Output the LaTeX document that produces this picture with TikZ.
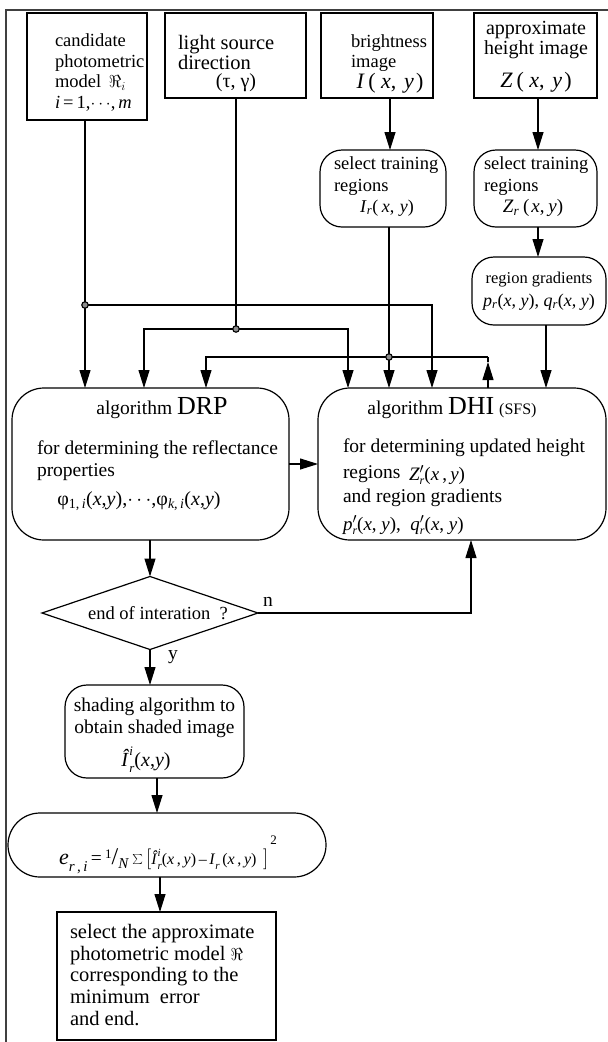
\documentclass[tikz,border=0pt]{standalone}
\usepackage{fontspec}
\setmainfont{Liberation Serif}
\usetikzlibrary{arrows.meta,shapes.geometric}
\newcommand{\vi}[1]{\textit{#1}}
\newcommand{\fsz}[1]{\fontsize{#1}{#1}\selectfont}
% hatted I with stacked super- and subscript
\newcommand{\Ihat}[1]{\vi{Î}\makebox[0pt][l]{\raisebox{0.55em}{\fsz{#1}\vi{i}}}\raisebox{-0.3em}{\fsz{#1}\vi{r}}}
% primed letter with subscript r
\newcommand{\pr}[1]{\vi{#1}\makebox[0pt][l]{\raisebox{0.0em}{$'$}}\raisebox{-0.22em}{\fsz{12}\vi{r}}}
\begin{document}
\begin{tikzpicture}[x=1pt,y=-1pt,
  every node/.style={inner sep=0pt, outer sep=0pt},
  txt/.style={font=\fontsize{19.5}{21.5}\selectfont, align=center},
  ltxt/.style={font=\fontsize{19.5}{21.5}\selectfont, align=left, anchor=west},
  sbox/.style={draw, line width=1.2pt},
  rbox/.style={draw, line width=1.2pt, rounded corners=22pt},
  bigbox/.style={draw, line width=1.2pt, rounded corners=32pt},
  arr/.style={-{Triangle[length=18pt,width=11pt]}, line width=1.1pt},
  ln/.style={line width=1.1pt},
  junction/.style={circle, draw, line width=1.1pt, fill=black!45, minimum size=6.5pt},
  frame/.style={line width=2.6pt, black!75}]
\useasboundingbox (0,0) rectangle (608,1042);

% outer frame
\draw[frame] (6,1042) -- (6,10) -- (608,10);

% input boxes
\node[sbox, minimum width=120pt, minimum height=107pt] (cand)   at (87,66.5) {};
\node[sbox, minimum width=141pt, minimum height=85pt]  (light)  at (235.5,55.5) {};
\node[sbox, minimum width=112pt, minimum height=85pt]  (bright) at (377,55.5) {};
\node[sbox, minimum width=123pt, minimum height=85pt]  (approx) at (535.5,55.5) {};

\node[ltxt, font=\fontsize{18.5}{20.5}\selectfont] (t-cand) at (55,72.5) {candidate\\photometric\\model\ \,$\Re_i$\\\vi{i}\,=\,1,$\cdots$,\,\vi{m}};
\node[ltxt, font=\fontsize{20.5}{20}\selectfont] (t-light) at (178,52.5) {light source\\direction};
\node[txt, font=\fontsize{20}{20}\selectfont] (t-tg) at (236,83) {(τ, γ)};
\node[ltxt, font=\fontsize{18.5}{20}\selectfont] (t-bright) at (351,53) {brightness\\image};
\node[txt, font=\fontsize{22}{22}\selectfont] (t-I) at (390,83) {\vi{I}\,(\hspace{0.25em}\vi{x},\hspace{0.35em}\vi{y}\hspace{0.1em})};
\node[txt, font=\fontsize{20}{20}\selectfont] (t-approx) at (536,40) {approximate\\height image};
\node[txt, font=\fontsize{22}{22}\selectfont] (t-Z) at (536,82) {\vi{Z}\,(\hspace{0.25em}\vi{x},\hspace{0.35em}\vi{y}\hspace{0.1em})};

% training regions
\node[rbox, minimum width=126pt, minimum height=77pt] (str1) at (383,188.5) {};
\node[rbox, minimum width=123pt, minimum height=77pt] (str2) at (535.5,188.5) {};
\node[ltxt, font=\fontsize{18.5}{21.5}\selectfont] (t-str1) at (334,176) {select training\\regions};
\node[txt, font=\fontsize{18}{18}\selectfont] (t-Ir) at (387,208) {\vi{I}\textsubscript{\vi{r}}(\hspace{0.2em}\vi{x},\hspace{0.3em}\vi{y})};
\node[ltxt, font=\fontsize{18.5}{21.5}\selectfont] (t-str2) at (484,176) {select training\\regions};
\node[txt, font=\fontsize{19}{19}\selectfont] (t-Zr) at (533,208) {\vi{Z}\textsubscript{\vi{r}}\hspace{0.2em}(\hspace{0.1em}\vi{x},\hspace{0.2em}\vi{y})};

% region gradients
\node[rbox, minimum width=134pt, minimum height=68pt] (rg) at (539,291) {};
\node[txt, font=\fontsize{16.5}{20}\selectfont] (t-rg) at (539,280) {region gradients};
\node[txt, font=\fontsize{18}{20}\selectfont] (t-pq) at (539,302) {\vi{p}\textsubscript{\vi{r}}(\vi{x}, \vi{y}), \vi{q}\textsubscript{\vi{r}}(\vi{x}, \vi{y})};

% the two algorithms
\node[bigbox, minimum width=277pt, minimum height=152pt] (drp) at (150.5,464) {};
\node[bigbox, minimum width=288pt, minimum height=152pt] (dhi) at (462,464) {};
\node[txt] (t-drp) at (162,408) {algorithm {\fsz{26}DRP}};
\node[ltxt] (t-drp2) at (37,450) {for determining the reflectance};
\node[ltxt] (t-drp3) at (37,472) {properties};
\node[txt, font=\fontsize{20}{20}\selectfont] (t-phi) at (139,501) {φ\textsubscript{1,\,\vi{i}}(\vi{x},\vi{y}),$\cdots$,φ\textsubscript{\vi{k},\,\vi{i}}(\vi{x},\vi{y})};
\node[txt] (t-dhi) at (452,408) {algorithm {\fsz{26}DHI} {\fsz{16}(SFS)}};
\node[ltxt] (t-dhi2) at (343,448) {for determining updated height};
\node[ltxt] (t-dhi3) at (343,474) {regions};
\node[ltxt, font=\fontsize{19}{20}\selectfont] (t-Zp) at (409,475) {\pr{Z}(\vi{x}\,,\,\vi{y})};
\node[ltxt] (t-dhi4) at (343,498) {and region gradients};
\node[ltxt, font=\fontsize{19}{20}\selectfont] (t-pqp) at (343,525) {\pr{p}(\vi{x}, \vi{y}),\ \ \pr{q}(\vi{x}, \vi{y})};

% decision
\node[diamond, draw, line width=1.2pt, minimum width=216pt, minimum height=73pt, aspect=3] (dec) at (150,613) {};
\node[txt, font=\fontsize{18.5}{20}\selectfont] (t-dec) at (158,613) {end of interation\ \ ?};
\node[txt] (t-n) at (268,602) {n};
\node[txt] (t-y) at (173,657) {y};

% shading
\node[rbox, minimum width=179pt, minimum height=93pt] (shade) at (154.5,731.5) {};
\node[txt] (t-shade) at (154.5,718) {shading algorithm to\\obtain shaded image};
\node[txt, font=\fontsize{20}{20}\selectfont] (t-Ihat) at (146,760) {\Ihat{13}(\vi{x},\vi{y})};

% error
\node[bigbox, minimum width=318pt, minimum height=64pt] (err) at (167,845) {};
\node[txt] (t-err) at (168,855) {{\fsz{22}\vi{e}\raisebox{-0.3em}{\fsz{15}\vi{r}\,,\,\vi{i}}}\,=\,{\fsz{13}\raisebox{6pt}{1}}{\fsz{24}/}{\fsz{15}\raisebox{-4pt}{\vi{N}}}\,{\fsz{22}$\sum$}\,{\fsz{22}$\bigg[$}{\fsz{16}\Ihat{11}(\vi{x}\,,\,\vi{y})\,–\,\vi{I}\raisebox{-0.3em}{\fsz{11}\vi{r}}\,(\vi{x}\,,\,\vi{y})}\,\,{\fsz{22}$\bigg]$}\raisebox{20pt}{\fsz{13}\,2}};

% final selection
\node[sbox, minimum width=219pt, minimum height=128pt] (final) at (166.5,976) {};
\node[ltxt, font=\fontsize{20.5}{21.7}\selectfont] (t-final) at (70,975) {select the approximate\\photometric model {\fsz{17}$\Re$}\\corresponding to the\\minimum\ \ error\\and end.};

% junctions and routing points
\coordinate (j1) at (85,305);
\coordinate (L1r) at (432,305);
\coordinate (j2) at (236,329);
\coordinate (L2l) at (144,329);
\coordinate (L2r) at (348,329);
\coordinate (j3) at (389,357);
\coordinate (L3l) at (206,357);
\coordinate (L3r) at (488,357);
\coordinate (xb) at (390,0);
\coordinate (xa) at (538,0);
\coordinate (xg) at (546,0);
\coordinate (xr) at (471,0);
\coordinate (xs) at (157,0);
\coordinate (xe) at (160,0);

% connectors
\draw[arr] (bright.south -| xb) -- (str1.north -| xb);
\draw[arr] (approx.south -| xa) -- (str2.north -| xa);
\draw[arr] (str2.south -| xa) -- (rg.north -| xa);

\draw[arr] (cand.south -| j1) -- (j1 |- drp.north);
\draw[arr] (j1) -- (L1r) -- (L1r |- dhi.north);

\draw[ln] (light.south -| j2) -- (j2);
\draw[arr] (j2) -- (L2l) -- (L2l |- drp.north);
\draw[arr] (j2) -- (L2r) -- (L2r |- dhi.north);

\draw[arr] (str1.south -| j3) -- (j3 |- dhi.north);
\draw[arr] (L3r) -- (L3l) -- (L3l |- drp.north);
\draw[arr] (dhi.north -| L3r) -- ([yshift=-5pt]L3r);
\draw[ln] ([yshift=-5pt]L3r) -- (L3r);

\draw[arr] (rg.south -| xg) -- (dhi.north -| xg);
\draw[arr] (drp.east) -- (dhi.west);
\draw[arr] (drp.south -| dec.north) -- (dec.north);
\draw[arr] (dec.east) -- (dec.east -| xr) -- (dhi.south -| xr);
\draw[arr] (dec.south) -- (dec.south |- shade.north);
\draw[arr] (shade.south -| xs) -- (err.north -| xs);
\draw[arr] (err.south -| xe) -- (final.north -| xe);

\node[junction] (d1) at (j1) {};
\node[junction] (d2) at (j2) {};
\node[junction] (d3) at (j3) {};
\end{tikzpicture}
\end{document}
